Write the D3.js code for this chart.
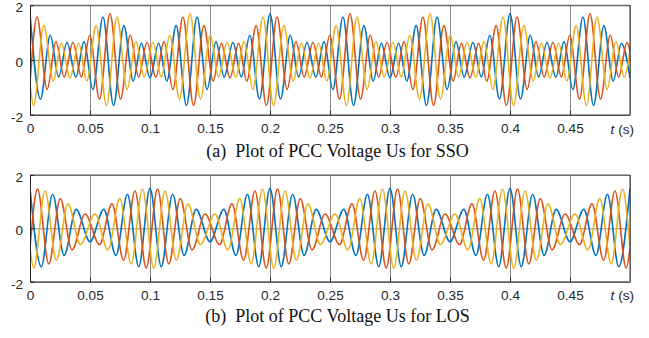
<!DOCTYPE html>
<html><head><meta charset="utf-8">
<script src="https://cdn.jsdelivr.net/npm/d3@7"></script>
<style>html,body{margin:0;padding:0;background:#fff;}svg{display:block;}</style>
</head><body>
<svg id="c" width="649" height="338"></svg>
<script>
// ---------- data ----------
const timeTicks = [0, 0.05, 0.1, 0.15, 0.2, 0.25, 0.3, 0.35, 0.4, 0.45];
const voltTicks = [-2, 0, 2];
const phaseNames = ["Ua", "Ub", "Uc"];
const captions = ["(a)  Plot of PCC Voltage Us for SSO", "(b)  Plot of PCC Voltage Us for LOS"];

// successive peaks / troughs [t (s), U] of each phase, SSO case
const ssoA = [
[0,1.7],[0.00874,-1.431],[0.01687,0.903],[0.02388,-0.622],[0.03087,0.642],[0.0382,-0.624],[0.04503,0.672],[0.05239,-1.075],[0.06081,1.574],
[0.06961,-1.665],[0.07823,1.258],[0.08599,-0.767],[0.09281,0.612],[0.1,-0.65],[0.1072,0.612],[0.11402,-0.767],[0.12178,1.258],[0.1304,-1.665],
[0.13919,1.574],[0.14761,-1.075],[0.15496,0.672],[0.16179,-0.624],[0.16913,0.642],[0.17612,-0.622],[0.18312,0.903],[0.19125,-1.431],
[0.2,1.7],[0.20874,-1.431],[0.21687,0.903],[0.22388,-0.622],[0.23087,0.642],[0.2382,-0.624],[0.24503,0.672],[0.25239,-1.075],[0.26081,1.574],
[0.26961,-1.665],[0.27823,1.258],[0.28599,-0.767],[0.29281,0.612],[0.3,-0.65],[0.3072,0.612],[0.31402,-0.767],[0.32178,1.258],[0.3304,-1.665],
[0.33919,1.574],[0.34761,-1.075],[0.35496,0.672],[0.36179,-0.624],[0.36913,0.642],[0.37612,-0.622],[0.38312,0.903],[0.39125,-1.431],
[0.4,1.7],[0.40874,-1.431],[0.41687,0.903],[0.42388,-0.622],[0.43087,0.642],[0.4382,-0.624],[0.44503,0.672],[0.45239,-1.075],[0.46081,1.574],
[0.46961,-1.665],[0.47823,1.258],[0.48599,-0.767],[0.49281,0.612],[0.5,-0.65]
];
const ssoB = [
[0,-0.85],
[0.00586,1.574],[0.01428,-1.075],[0.02163,0.672],[0.02846,-0.624],[0.0358,0.642],[0.04279,-0.622],[0.04979,0.903],[0.05792,-1.431],
[0.06667,1.7],[0.07541,-1.431],[0.08354,0.903],[0.09055,-0.622],[0.09754,0.642],[0.10487,-0.624],[0.1117,0.672],[0.11906,-1.075],[0.12748,1.574],
[0.13627,-1.665],[0.14489,1.258],[0.15265,-0.767],[0.15947,0.612],[0.16667,-0.65],[0.17386,0.612],[0.18068,-0.767],[0.18844,1.258],[0.19706,-1.665],
[0.20586,1.574],[0.21428,-1.075],[0.22163,0.672],[0.22846,-0.624],[0.2358,0.642],[0.24279,-0.622],[0.24979,0.903],[0.25792,-1.431],
[0.26667,1.7],[0.27541,-1.431],[0.28354,0.903],[0.29055,-0.622],[0.29754,0.642],[0.30487,-0.624],[0.3117,0.672],[0.31906,-1.075],[0.32748,1.574],
[0.33627,-1.665],[0.34489,1.258],[0.35265,-0.767],[0.35947,0.612],[0.36667,-0.65],[0.37386,0.612],[0.38068,-0.767],[0.38844,1.258],[0.39706,-1.665],
[0.40586,1.574],[0.41428,-1.075],[0.42163,0.672],[0.42846,-0.624],[0.4358,0.642],[0.44279,-0.622],[0.44979,0.903],[0.45792,-1.431],
[0.46667,1.7],[0.47541,-1.431],[0.48354,0.903],[0.49055,-0.622],[0.49754,0.642],
[0.5,0.325]
];
const ssoC = [
[0,-0.85],
[0.00294,-1.665],[0.01156,1.258],[0.01932,-0.767],[0.02614,0.612],[0.03333,-0.65],[0.04053,0.612],[0.04735,-0.767],[0.05511,1.258],[0.06373,-1.665],
[0.07253,1.574],[0.08094,-1.075],[0.0883,0.672],[0.09513,-0.624],[0.10246,0.642],[0.10945,-0.622],[0.11646,0.903],[0.12459,-1.431],
[0.13333,1.7],[0.14207,-1.431],[0.15021,0.903],[0.15721,-0.622],[0.1642,0.642],[0.17153,-0.624],[0.17836,0.672],[0.18572,-1.075],[0.19414,1.574],
[0.20294,-1.665],[0.21156,1.258],[0.21932,-0.767],[0.22614,0.612],[0.23333,-0.65],[0.24053,0.612],[0.24735,-0.767],[0.25511,1.258],[0.26373,-1.665],
[0.27253,1.574],[0.28094,-1.075],[0.2883,0.672],[0.29513,-0.624],[0.30246,0.642],[0.30945,-0.622],[0.31646,0.903],[0.32459,-1.431],
[0.33333,1.7],[0.34207,-1.431],[0.35021,0.903],[0.35721,-0.622],[0.3642,0.642],[0.37153,-0.624],[0.37836,0.672],[0.38572,-1.075],[0.39414,1.574],
[0.40294,-1.665],[0.41156,1.258],[0.41932,-0.767],[0.42614,0.612],[0.43333,-0.65],[0.44053,0.612],[0.44735,-0.767],[0.45511,1.258],[0.46373,-1.665],
[0.47253,1.574],[0.48094,-1.075],[0.4883,0.672],[0.49513,-0.624],
[0.5,0.325]
];

// successive peaks / troughs [t (s), U] of each phase, LOS case
const losA = [
[0,1.5],[0.00938,-1.442],[0.01882,1.276],[0.02841,-1.018],[0.03846,0.709],[0.05,-0.5],[0.06154,0.709],[0.07159,-1.018],[0.08118,1.276],[0.09062,-1.442],
[0.1,1.5],[0.10938,-1.442],[0.11882,1.276],[0.12841,-1.018],[0.13846,0.709],[0.15,-0.5],[0.16154,0.709],[0.17159,-1.018],[0.18118,1.276],[0.19062,-1.442],
[0.2,1.5],[0.20938,-1.442],[0.21882,1.276],[0.22841,-1.018],[0.23846,0.709],[0.25,-0.5],[0.26154,0.709],[0.27159,-1.018],[0.28118,1.276],[0.29062,-1.442],
[0.3,1.5],[0.30938,-1.442],[0.31882,1.276],[0.32841,-1.018],[0.33846,0.709],[0.35,-0.5],[0.36154,0.709],[0.37159,-1.018],[0.38118,1.276],[0.39062,-1.442],
[0.4,1.5],[0.40938,-1.442],[0.41882,1.276],[0.42841,-1.018],[0.43846,0.709],[0.45,-0.5],[0.46154,0.709],[0.47159,-1.018],[0.48118,1.276],[0.49062,-1.442],
[0.5,1.5]
];
const losB = [
[0,-0.75],
[0.00625,1.474],[0.01566,-1.342],[0.02518,1.113],[0.03502,-0.813],[0.04591,0.535],[0.05794,-0.611],[0.06832,0.918],[0.07801,-1.199],[0.08748,1.398],[0.09688,-1.493],
[0.10625,1.474],[0.11566,-1.342],[0.12518,1.113],[0.13502,-0.813],[0.14591,0.535],[0.15794,-0.611],[0.16832,0.918],[0.17801,-1.199],[0.18748,1.398],[0.19688,-1.493],
[0.20625,1.474],[0.21566,-1.342],[0.22518,1.113],[0.23502,-0.813],[0.24591,0.535],[0.25794,-0.611],[0.26832,0.918],[0.27801,-1.199],[0.28748,1.398],[0.29688,-1.493],
[0.30625,1.474],[0.31566,-1.342],[0.32518,1.113],[0.33502,-0.813],[0.34591,0.535],[0.35794,-0.611],[0.36832,0.918],[0.37801,-1.199],[0.38748,1.398],[0.39688,-1.493],
[0.40625,1.474],[0.41566,-1.342],[0.42518,1.113],[0.43502,-0.813],[0.44591,0.535],[0.45794,-0.611],[0.46832,0.918],[0.47801,-1.199],[0.48748,1.398],[0.49688,-1.493],
[0.5,-0.75]
];
const losC = [
[0,-0.75],
[0.00313,-1.493],[0.01252,1.398],[0.02199,-1.199],[0.03168,0.918],[0.04206,-0.611],[0.05409,0.535],[0.06498,-0.813],[0.07482,1.113],[0.08434,-1.342],[0.09375,1.474],
[0.10313,-1.493],[0.11252,1.398],[0.12199,-1.199],[0.13168,0.918],[0.14206,-0.611],[0.15409,0.535],[0.16498,-0.813],[0.17482,1.113],[0.18434,-1.342],[0.19375,1.474],
[0.20313,-1.493],[0.21252,1.398],[0.22199,-1.199],[0.23168,0.918],[0.24206,-0.611],[0.25409,0.535],[0.26498,-0.813],[0.27482,1.113],[0.28434,-1.342],[0.29375,1.474],
[0.30313,-1.493],[0.31252,1.398],[0.32199,-1.199],[0.33168,0.918],[0.34206,-0.611],[0.35409,0.535],[0.36498,-0.813],[0.37482,1.113],[0.38434,-1.342],[0.39375,1.474],
[0.40313,-1.493],[0.41252,1.398],[0.42199,-1.199],[0.43168,0.918],[0.44206,-0.611],[0.45409,0.535],[0.46498,-0.813],[0.47482,1.113],[0.48434,-1.342],[0.49375,1.474],
[0.5,-0.75]
];

// ---------- layout / style ----------
const colors = ["#0072BD", "#D95319", "#EDB120"];
const panels = [
  { series: [ssoA, ssoB, ssoC], top: 5.3, bottom: 114.7, capY: 156.5 },
  { series: [losA, losB, losC], top: 175, bottom: 281.6, capY: 322 }
];
const X0 = 30, X1 = 630;
const tickFont = "Arial, 'Liberation Sans', sans-serif";
const capFont = "'Times New Roman', 'Liberation Serif', serif";

const svg = d3.select("#c");
const x = d3.scaleLinear().domain([0, 0.5]).range([X0, X1]);

panels.forEach((p, i) => {
  const y = d3.scaleLinear().domain([-2, 2]).range([p.bottom, p.top]);
  const g = svg.append("g");
  const h = p.bottom - p.top;

  // vertical grid
  g.append("g").attr("transform", `translate(0,${p.bottom})`)
    .call(d3.axisBottom(x).tickValues(timeTicks.concat([0.5])).tickSize(-h).tickFormat(""))
    .call(s => s.select(".domain").remove())
    .selectAll("line").attr("stroke", "#6a6a6a").attr("stroke-width", 0.8);
  // horizontal grid
  g.append("g").attr("transform", `translate(${X0},0)`)
    .call(d3.axisLeft(y).tickValues(voltTicks).tickSize(-(X1 - X0)).tickFormat(""))
    .call(s => s.select(".domain").remove())
    .selectAll("line").attr("stroke", "#6a6a6a").attr("stroke-width", 0.8);

  // clip
  const cid = "clip" + i;
  svg.append("clipPath").attr("id", cid).append("rect")
    .attr("x", X0).attr("y", p.top - 2).attr("width", X1 - X0).attr("height", h + 4);

  const line = d3.line().x(d => x(d[0])).y(d => y(d[1])).curve(d3.curveMonotoneX);
  g.append("g").attr("clip-path", `url(#${cid})`)
    .selectAll("path").data(p.series).join("path")
    .attr("d", line)
    .attr("fill", "none")
    .attr("stroke", (d, k) => colors[k])
    .attr("stroke-width", 1.6)
    .attr("stroke-linejoin", "round")
    .append("title").text((d, k) => phaseNames[k]);

  // box
  g.append("line").attr("x1", X0).attr("x2", X1).attr("y1", p.top).attr("y2", p.top)
    .attr("stroke", "#555").attr("stroke-width", 1);
  g.append("line").attr("x1", X1).attr("x2", X1).attr("y1", p.top).attr("y2", p.bottom)
    .attr("stroke", "#333").attr("stroke-width", 1);

  // x axis
  const xa = g.append("g").attr("transform", `translate(0,${p.bottom})`)
    .call(d3.axisBottom(x).tickValues(timeTicks).tickSizeInner(-4).tickSizeOuter(0).tickFormat(d => String(d)));
  xa.select(".domain").attr("stroke", "#222");
  xa.selectAll(".tick line").attr("stroke", "#222");
  xa.selectAll("text").attr("dy", null).attr("y", 18.8)
    .attr("font-family", tickFont).attr("font-size", 13.6).attr("fill", "#262626");

  // y axis
  const ya = g.append("g").attr("transform", `translate(${X0},0)`)
    .call(d3.axisLeft(y).tickValues(voltTicks).tickSizeInner(-4).tickSizeOuter(0).tickFormat(d => String(d)));
  ya.select(".domain").attr("stroke", "#222");
  ya.selectAll(".tick line").attr("stroke", "#222");
  ya.selectAll("text").attr("dy", "6.5").attr("x", -7)
    .attr("font-family", tickFont).attr("font-size", 13.6).attr("fill", "#262626");

  // t (s)
  const tl = g.append("text").attr("x", 634).attr("y", p.bottom + 18.8)
    .attr("text-anchor", "end").attr("font-family", tickFont).attr("font-size", 13.6).attr("fill", "#262626");
  tl.append("tspan").attr("font-style", "italic").text("t");
  tl.append("tspan").text(" (s)");

  // caption
  g.append("text").attr("x", 337.5).attr("y", p.capY).attr("text-anchor", "middle")
    .attr("font-family", capFont).attr("font-size", 18).attr("fill", "#111")
    .attr("xml:space", "preserve").style("white-space", "pre")
    .text(captions[i]);
});
</script>
</body></html>
